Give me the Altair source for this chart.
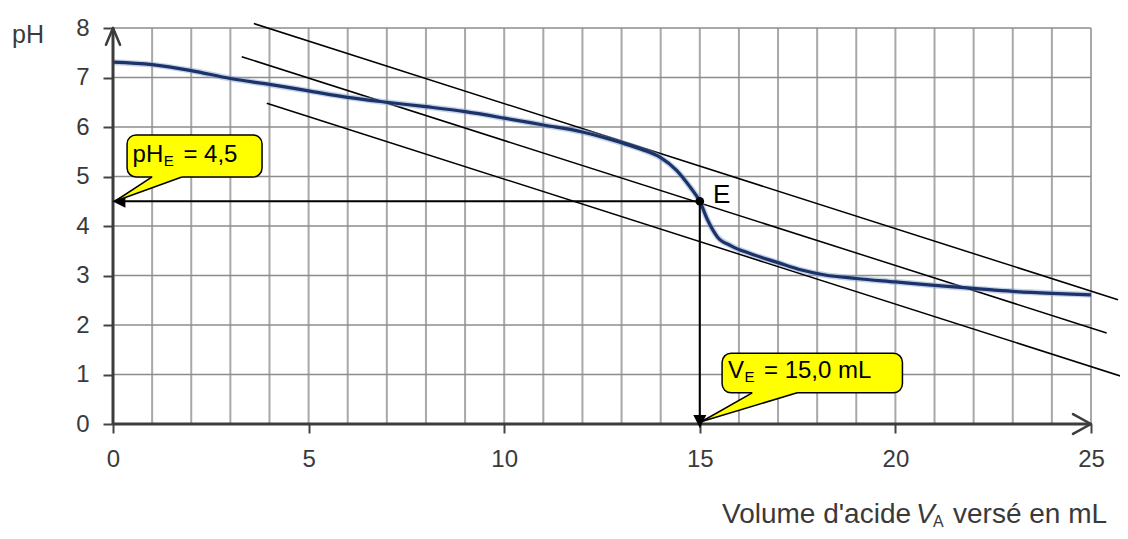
import altair as alt
import pandas as pd

# ---------------- data ----------------
volume = [0, 1, 2, 3, 4, 5, 6, 7, 8, 9, 10, 11, 12, 13, 13.5, 14, 14.4, 14.75, 15,
          15.2, 15.45, 15.8, 16.3, 17, 17.6, 18.2, 19, 20, 21, 22, 23, 24, 25]
ph = [7.31, 7.26, 7.14, 6.98, 6.86, 6.73, 6.60, 6.50, 6.41, 6.31, 6.18, 6.04, 5.90, 5.68, 5.55,
      5.38, 5.13, 4.79, 4.50, 4.12, 3.78, 3.60, 3.44, 3.26, 3.11, 3.01, 2.94, 2.87, 2.80,
      2.74, 2.68, 2.64, 2.61]

# three parallel tangent lines (start / end points)
tangent_x1 = [3.60, 3.29, 3.93]
tangent_y1 = [8.09, 7.42, 6.48]
tangent_x2 = [25.69, 25.40, 25.95]
tangent_y2 = [2.51, 1.84, 0.92]

x_grid = list(range(0, 26))
y_grid = list(range(0, 9))
x_ticks = [0, 5, 10, 15, 20, 25]
y_ticks = list(range(0, 9))

equiv_v = 15.0
equiv_ph = 4.5

# callout boxes: x1, x2, y1, y2
box_x1 = [0.36, 15.57]
box_x2 = [3.81, 20.18]
box_y1 = [4.99, 0.63]
box_y2 = [5.84, 1.43]
# callout pointers: tip, base-left, base-right
ptr_tip_x = [0.05, 15.05]
ptr_tip_y = [4.50, 0.05]
ptr_bl_x = [1.00, 16.34]
ptr_br_x = [1.76, 17.49]

FONT = "Liberation Sans"
W, H = 978, 396
PAD_L, PAD_T, PAD_R, PAD_B = 105, 20, 29, 107

xs = alt.Scale(domain=[0, 25], nice=False, zero=False)
ys = alt.Scale(domain=[0, 8], nice=False, zero=False)
x_axis = alt.Axis(values=x_ticks, tickSize=9, tickWidth=2, tickColor="#444444",
                  domain=False, grid=False, labelFontSize=24, labelFont=FONT,
                  labelColor="#3a3a3a", labelPadding=14, labelFlush=False,
                  labelOverlap=False, title=None)
y_axis = alt.Axis(values=y_ticks, tickSize=10, tickWidth=2, tickColor="#444444",
                  domain=False, grid=False, labelFontSize=24, labelFont=FONT,
                  labelColor="#3a3a3a", labelPadding=14, labelOverlap=False,
                  title=None)


def X(f):
    return alt.X(f, type="quantitative", scale=xs, axis=x_axis, title=None)


def Y(f):
    return alt.Y(f, type="quantitative", scale=ys, axis=y_axis, title=None, stack=None)


# ---------------- grid ----------------
vgrid = alt.Chart(pd.DataFrame({"gx": x_grid})).mark_rule(
    color="#a8a8a8", strokeWidth=2).encode(x=X("gx"))
hgrid = alt.Chart(pd.DataFrame({"gy": y_grid})).mark_rule(
    color="#8c8c8c", strokeWidth=1.6).encode(y=Y("gy"))

# ---------------- tangents ----------------
tang_df = pd.DataFrame({"x1": tangent_x1, "y1": tangent_y1,
                        "x2": tangent_x2, "y2": tangent_y2})
tangents = alt.Chart(tang_df).mark_rule(color="black", strokeWidth=1.5).encode(
    x=X("x1"), y=Y("y1"), x2="x2:Q", y2="y2:Q")

# ---------------- curve ----------------
curve_df = pd.DataFrame({"v": volume, "ph": ph})
halo = alt.Chart(curve_df).mark_line(color="#7f9ccc", strokeWidth=6, opacity=0.45,
                                     interpolate="monotone").encode(x=X("v"), y=Y("ph"))
curve = alt.Chart(curve_df).mark_line(color="#1b3368", strokeWidth=3.2,
                                      interpolate="monotone").encode(x=X("v"), y=Y("ph"))

# ---------------- axes lines and chevrons ----------------
axes_df = pd.DataFrame({"x1": [0, 0], "y1": [0, 0], "x2": [25, 0], "y2": [0, 8]})
axes_lines = alt.Chart(axes_df).mark_rule(color="#3c3c3c", strokeWidth=3).encode(
    x=X("x1"), y=Y("y1"), x2="x2:Q", y2="y2:Q")
chev_df = pd.DataFrame({"x1": [-0.18, 0.18, 24.54, 24.54], "y1": [7.66, 7.66, 0.2, -0.2],
                        "x2": [0, 0, 25, 25], "y2": [8, 8, 0, 0]})
chevrons = alt.Chart(chev_df).mark_rule(color="#3c3c3c", strokeWidth=2.5,
                                        strokeCap="round").encode(
    x=X("x1"), y=Y("y1"), x2="x2:Q", y2="y2:Q")

# ---------------- equivalence arrows ----------------
arr_df = pd.DataFrame({"x1": [equiv_v, equiv_v], "y1": [equiv_ph, equiv_ph],
                       "x2": [0.2, equiv_v], "y2": [equiv_ph, 0.15]})
arrows = alt.Chart(arr_df).mark_rule(color="black", strokeWidth=2).encode(
    x=X("x1"), y=Y("y1"), x2="x2:Q", y2="y2:Q")
head_left = alt.Chart(pd.DataFrame({"x": [0.15], "y": [equiv_ph]})).mark_point(
    shape="M -1 0 L 1 -1 L 1 1 Z", filled=True, color="black", size=169, opacity=1
).encode(x=X("x"), y=Y("y"))
head_down = alt.Chart(pd.DataFrame({"x": [equiv_v], "y": [0.05]})).mark_point(
    shape="M 0 1 L -1 -1 L 1 -1 Z", filled=True, color="black", size=169, opacity=1
).encode(x=X("x"), y=Y("y"))
e_dot = alt.Chart(pd.DataFrame({"x": [equiv_v], "y": [equiv_ph]})).mark_circle(
    color="black", size=75, opacity=1).encode(x=X("x"), y=Y("y"))
e_label = alt.Chart(pd.DataFrame({"x": [15.34], "y": [4.46], "t": ["E"]})).mark_text(
    align="left", baseline="alphabetic", fontSize=26, font=FONT, color="black"
).encode(x=X("x"), y=Y("y"), text="t:N")

# ---------------- callouts ----------------
box_df = pd.DataFrame({"x1": box_x1, "x2": box_x2, "y1": box_y1, "y2": box_y2})
boxes = alt.Chart(box_df).mark_rect(fill="#ffff00", stroke="black", strokeWidth=1.5,
                                    cornerRadius=9).encode(
    x=X("x1"), x2="x2:Q", y=Y("y1"), y2="y2:Q")

pointer_layers = []
for i in range(2):
    tx, ty = ptr_tip_x[i], ptr_tip_y[i]
    bl, br, by = ptr_bl_x[i], ptr_br_x[i], box_y1[i]
    bottom_at_bl = ty + (by - ty) * (bl - tx) / (br - tx)
    pdf = pd.DataFrame({
        "px": [tx, bl, bl + 0.02, br],
        "pt": [ty, by, by + 0.05, by + 0.05],
        "pb": [ty, bottom_at_bl, bottom_at_bl + 0.02 * (by - ty) / (br - tx), by],
    })
    pointer_layers.append(
        alt.Chart(pdf).mark_area(fill="#ffff00", fillOpacity=1, interpolate="linear")
        .encode(x=X("px"), y=Y("pt"), y2="pb:Q"))

ptr_line_df = pd.DataFrame({
    "x1": ptr_tip_x + ptr_tip_x, "y1": ptr_tip_y + ptr_tip_y,
    "x2": ptr_bl_x + ptr_br_x, "y2": box_y1 + box_y1})
pointer_lines = alt.Chart(ptr_line_df).mark_rule(color="black", strokeWidth=1.5).encode(
    x=X("x1"), y=Y("y1"), x2="x2:Q", y2="y2:Q")

main_txt = alt.Chart(pd.DataFrame({
    "x": [0.50, 1.80, 15.72, 16.64], "y": [5.30, 5.30, 0.93, 0.93],
    "t": ["pH", "= 4,5", "V", "= 15,0 mL"]})).mark_text(
    align="left", baseline="alphabetic", fontSize=24, font=FONT, color="black"
).encode(x=X("x"), y=Y("y"), text="t:N")
sub_txt = alt.Chart(pd.DataFrame({
    "x": [1.30, 16.14], "y": [5.21, 0.84], "t": ["E", "E"]})).mark_text(
    align="left", baseline="alphabetic", fontSize=15, font=FONT, color="black"
).encode(x=X("x"), y=Y("y"), text="t:N")

# ---------------- titles ----------------
ph_title = alt.Chart(pd.DataFrame({"t": ["pH"]})).mark_text(
    align="left", baseline="alphabetic", fontSize=25, font=FONT, color="#3a3a3a"
).encode(x=alt.value(-101), y=alt.value(15), text="t:N")
xt1 = alt.Chart(pd.DataFrame({"t": ["Volume d'acide"]})).mark_text(
    align="left", baseline="alphabetic", fontSize=28, font=FONT, color="#3a3a3a"
).encode(x=alt.value(609), y=alt.value(495), text="t:N")
xt2 = alt.Chart(pd.DataFrame({"t": ["V"]})).mark_text(
    align="left", baseline="alphabetic", fontSize=28, font=FONT, color="#3a3a3a",
    fontStyle="italic").encode(x=alt.value(803), y=alt.value(495), text="t:N")
xt3 = alt.Chart(pd.DataFrame({"t": ["A"]})).mark_text(
    align="left", baseline="alphabetic", fontSize=16, font=FONT, color="#3a3a3a"
).encode(x=alt.value(820), y=alt.value(499), text="t:N")
xt4 = alt.Chart(pd.DataFrame({"t": ["versé en mL"]})).mark_text(
    align="left", baseline="alphabetic", fontSize=28, font=FONT, color="#3a3a3a"
).encode(x=alt.value(840), y=alt.value(495), text="t:N")

chart = alt.layer(
    vgrid, hgrid, tangents, halo, curve, axes_lines, chevrons, arrows, head_left,
    head_down, e_dot, e_label, boxes, *pointer_layers, pointer_lines, main_txt, sub_txt,
    ph_title, xt1, xt2, xt3, xt4
).properties(
    width=W, height=H,
    autosize=alt.AutoSizeParams(type="none"),
    padding={"left": PAD_L, "top": PAD_T, "right": PAD_R, "bottom": PAD_B},
    background="white"
).configure_view(stroke=None)

chart.save("out.html", embed_options={"renderer": "svg", "actions": False})
